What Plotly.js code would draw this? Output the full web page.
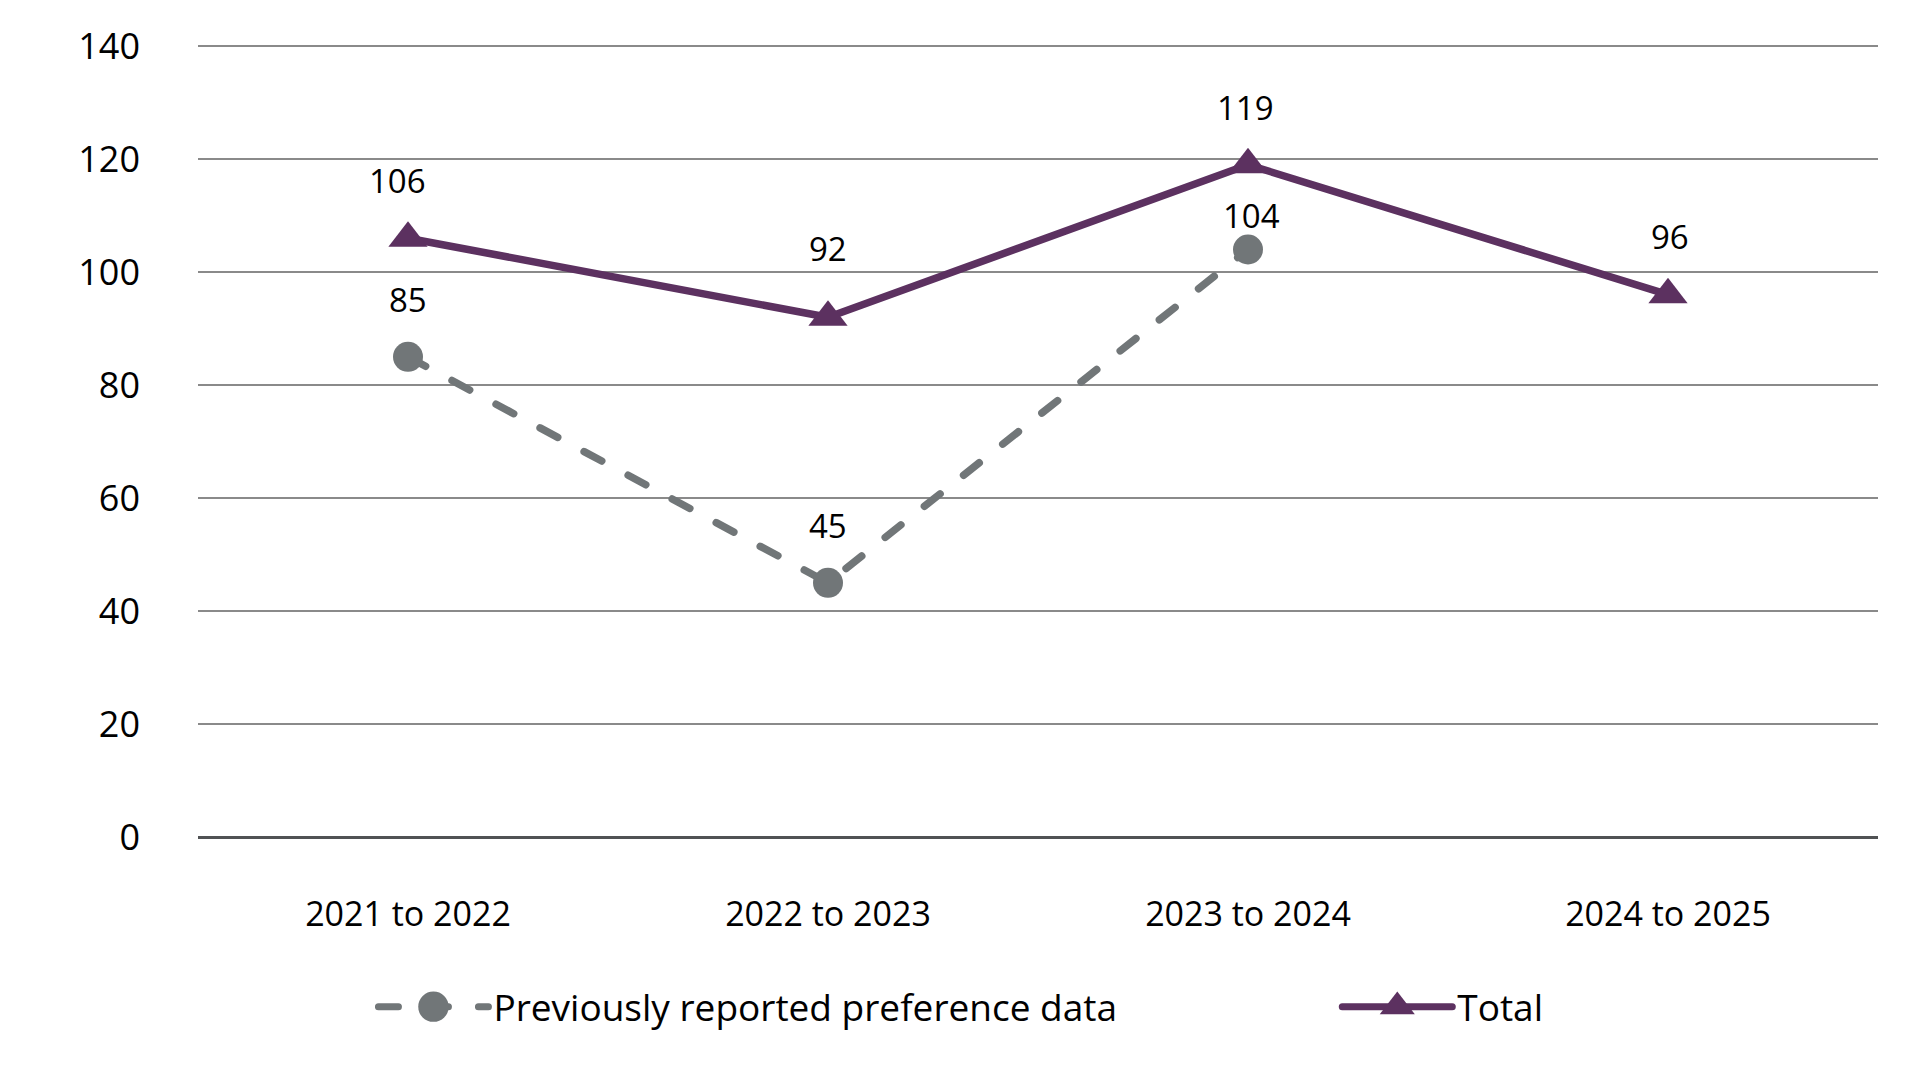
<!DOCTYPE html>
<html>
<head>
<meta charset="utf-8">
<script src="https://cdn.plot.ly/plotly-3.0.1.min.js"></script>
<style>
  html, body { margin: 0; padding: 0; background: #ffffff; }
  #chart { width: 1920px; height: 1080px; }
  .scatterlayer .js-line { stroke-linecap: round; stroke-linejoin: round; }
  .legendlines path { stroke-linecap: round; }
</style>
</head>
<body>
<div id="chart"></div>
<script>
// ---- data ----
const categories = ["2021 to 2022", "2022 to 2023", "2023 to 2024", "2024 to 2025"];
const previousCategories = ["2021 to 2022", "2022 to 2023", "2023 to 2024"];
const previousValues = [85, 45, 104];
const totalValues = [106, 92, 119, 96];
const seriesNames = ["Previously reported preference data", "Total"];
const yTicks = [0, 20, 40, 60, 80, 100, 120, 140];

// ---- styles ----
const grayColor = "#717678";
const purpleColor = "#5c3160";
const textFont = "Open Sans, Noto Sans, sans-serif";
// label offsets in px (style only)
const totalLabelShift = [58, 69, 57, 58];
const totalLabelXShift = [-11, 0, -3, 2];
const prevLabelShift = [57, 57, 34];
const prevLabelXShift = [0, 0, 3];

const traces = [
  {
    type: "scatter", mode: "lines+markers",
    name: seriesNames[0], legend: "legend",
    x: previousCategories, y: previousValues,
    line: { color: grayColor, width: 7.5, dash: "20px,30px" },
    marker: { symbol: "circle", size: 30, color: grayColor },
    hoverinfo: "x+y"
  },
  {
    type: "scatter", mode: "lines+markers",
    name: seriesNames[1], legend: "legend2",
    x: categories, y: totalValues,
    line: { color: purpleColor, width: 7.5 },
    marker: { symbol: "triangle-up", size: 34, color: purpleColor },
    hoverinfo: "x+y"
  }
];

const annotations = [];
totalValues.forEach((v, i) => annotations.push({
  x: categories[i], y: v, xref: "x", yref: "y", text: String(v),
  showarrow: false, yshift: totalLabelShift[i], xshift: totalLabelXShift[i],
  font: { family: textFont, size: 33, color: "#000000" }
}));
previousValues.forEach((v, i) => annotations.push({
  x: previousCategories[i], y: v, xref: "x", yref: "y", text: String(v),
  showarrow: false, yshift: prevLabelShift[i], xshift: prevLabelXShift[i],
  font: { family: textFont, size: 33, color: "#000000" }
}));

const legendBase = {
  orientation: "h", xref: "container", yref: "container",
  xanchor: "left", y: 0.0675, yanchor: "middle",
  font: { family: textFont, size: 37, color: "#000000" },
  itemwidth: 110, itemsizing: "trace", bgcolor: "rgba(0,0,0,0)"
};

const layout = {
  width: 1920, height: 1080,
  paper_bgcolor: "#ffffff", plot_bgcolor: "#ffffff",
  margin: { l: 198, r: 42, t: 45, b: 243 },
  showlegend: true,
  legend: Object.assign({}, legendBase, { x: 0.1945 }),
  legend2: Object.assign({}, legendBase, { x: 0.6965 }),
  xaxis: {
    type: "category", categoryarray: categories, categoryorder: "array",
    range: [-0.5, 3.5], showgrid: false, zeroline: false, showline: false,
    ticks: "", ticklabelstandoff: 54,
    tickfont: { family: textFont, size: 34, color: "#000000" }
  },
  yaxis: {
    range: [0, 140.2], tickvals: yTicks, ticktext: yTicks.map(String),
    showgrid: true, gridcolor: "#8a8a8a", gridwidth: 2,
    zeroline: true, zerolinecolor: "#505254", zerolinewidth: 3,
    showline: false, ticks: "", ticklabelstandoff: 57,
    tickfont: { family: textFont, size: 36, color: "#000000" }
  },
  annotations: annotations
};

Plotly.newPlot("chart", traces, layout, { displayModeBar: false, staticPlot: true }).then(gd => {
  // enlarge legend symbols to match the chart's marker/line sizes
  gd.querySelectorAll(".legendpoints path.scatterpts").forEach(p => {
    const t = p.getAttribute("transform") || "";
    p.setAttribute("transform", t + " scale(1.9)");
  });
  gd.querySelectorAll(".legendlines path").forEach(p => {
    p.style.strokeWidth = "7px";
  });
});
</script>
</body>
</html>
